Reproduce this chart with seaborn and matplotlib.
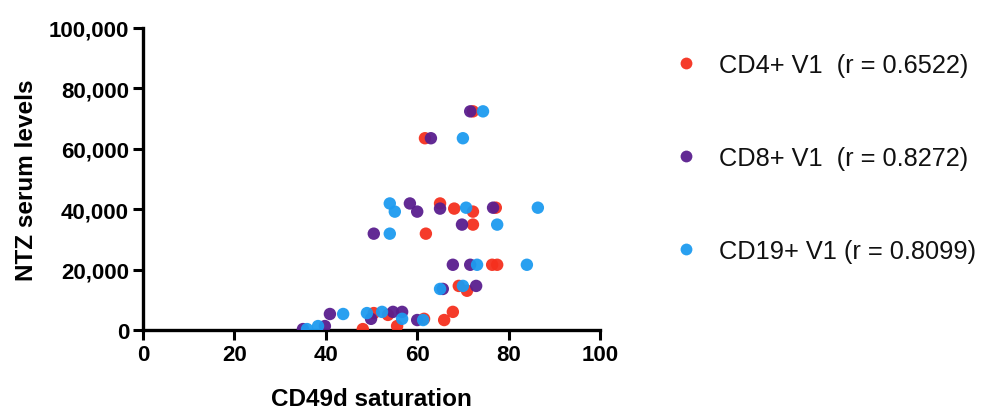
import matplotlib
matplotlib.use("Agg")
import matplotlib.pyplot as plt
import matplotlib.ticker as mticker
import seaborn as sns
import pandas as pd

# ---- data ----
cd4_x = [65.0, 68.1, 72.2, 77.2, 72.2, 61.9, 76.4, 77.5, 69.1, 70.9, 67.8, 65.9,
         50.5, 53.6, 55.6, 61.5, 48.1, 72.2, 61.7]
cd4_y = [41.9, 40.2, 39.2, 40.5, 34.9, 31.9, 21.6, 21.6, 14.6, 13.0, 6.0, 3.3,
         5.6, 5.0, 1.3, 3.7, 0.3, 72.4, 63.5]
cd8_x = [58.4, 60.0, 65.0, 76.6, 69.8, 50.5, 67.8, 71.6, 65.6, 72.9, 40.9, 49.9,
         54.7, 56.7, 60.0, 35.0, 39.8, 71.6, 63.0]
cd8_y = [41.9, 39.2, 40.2, 40.5, 34.9, 31.9, 21.6, 21.6, 13.6, 14.6, 5.3, 3.7,
         6.0, 6.0, 3.3, 0.3, 1.3, 72.4, 63.5]
cd19_x = [54.0, 55.1, 70.7, 86.4, 77.5, 54.0, 73.1, 84.0, 65.0, 70.0, 43.8, 49.0,
          52.3, 56.7, 61.3, 35.9, 38.3, 74.4, 70.0]
cd19_y = [41.9, 39.2, 40.5, 40.5, 34.9, 31.9, 21.6, 21.6, 13.6, 14.6, 5.3, 5.6,
          6.0, 3.7, 3.3, 0.3, 1.3, 72.4, 63.5]

series_labels = ["CD4+ V1  (r = 0.6522)", "CD8+ V1  (r = 0.8272)", "CD19+ V1 (r = 0.8099)"]
series_colors = ["#f5301e", "#5a1e8e", "#1d9bf0"]
x_ticks = [0, 20, 40, 60, 80, 100]
y_ticks = [0, 20000, 40000, 60000, 80000, 100000]

frames = []
for lab, xs, ys in zip(series_labels, [cd4_x, cd8_x, cd19_x], [cd4_y, cd8_y, cd19_y]):
    frames.append(pd.DataFrame({"x": xs, "y": [v * 1000 for v in ys], "series": lab}))
df = pd.concat(frames, ignore_index=True)

sns.set_theme(style="ticks")
plt.rcParams["font.family"] = ["Liberation Sans", "DejaVu Sans"]

fig = plt.figure(figsize=(9.87, 4.10), dpi=100)
ax = fig.add_axes([143 / 987, 79 / 410, 457 / 987, 302 / 410])

sns.scatterplot(data=df, x="x", y="y", hue="series", hue_order=series_labels,
                palette=series_colors, s=80, linewidth=0, alpha=0.95, ax=ax, legend=True)

ax.set_xlim(0, 100)
ax.set_ylim(0, 100000)
ax.set_xticks(x_ticks)
ax.set_yticks(y_ticks)
ax.yaxis.set_major_formatter(mticker.FuncFormatter(lambda v, p: f"{int(v):,}"))
for lbl in ax.get_xticklabels() + ax.get_yticklabels():
    lbl.set_fontweight("bold")
    lbl.set_fontsize(16)
    lbl.set_color("black")
ax.tick_params(axis="both", width=2.2, length=7, color="black", pad=3)
for sp in ["left", "bottom"]:
    ax.spines[sp].set_linewidth(2.4)
    ax.spines[sp].set_color("black")
sns.despine(ax=ax)
ax.spines["left"].set_zorder(0)
ax.spines["bottom"].set_zorder(0)

ax.set_xlabel("CD49d saturation", fontsize=17.5, fontweight="bold", labelpad=16, color="black")
ax.set_ylabel("NTZ serum levels", fontsize=17.5, fontweight="bold", labelpad=8, color="black")

handles, labels = ax.get_legend_handles_labels()
ax.legend_.remove()
leg = fig.legend(handles, labels, loc="center left", bbox_to_anchor=(650 / 987, 251 / 410),
                 frameon=False, fontsize=18.3, labelspacing=2.72, handletextpad=0.3,
                 markerscale=0.95, borderaxespad=0)
for t in leg.get_texts():
    t.set_color("#111111")

fig.savefig("out.png", dpi=100)
